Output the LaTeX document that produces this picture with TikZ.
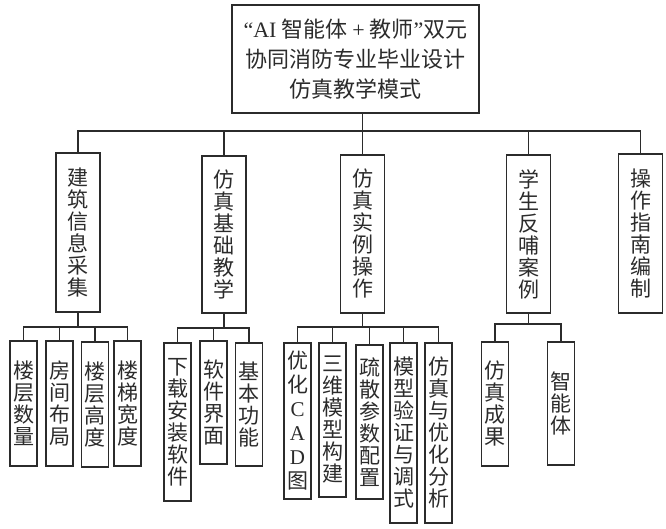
\documentclass[tikz,border=0pt]{standalone}
\usepackage{fontspec}
\setmainfont{Noto Sans CJK SC}
\newfontfamily\latin{Liberation Serif}
\definecolor{ink}{HTML}{2B2B2B}
\begin{document}
\begin{tikzpicture}[x=1pt,y=-1pt,
	box/.style={draw=ink, line width=1.3pt, align=center, inner sep=0pt, text=ink, font=\fontsize{21}{22}\selectfont},
	midbox/.style={box, minimum width=44, minimum height=#1},
	leafbox/.style={box, minimum width=27, minimum height=#1},
	link/.style={draw=ink, line width=1.2pt}]
	\useasboundingbox (0,0) rectangle (666,528);
	
	\node[box, minimum width=247, minimum height=108, font=\fontsize{22}{30}\selectfont] (top) at (355.5,59)
		{{\latin “AI} 智能体 {\latin +} 教师{\latin ”}双元\\协同消防专业毕业设计\\仿真教学模式};
	
	\node[midbox=159] (b1) at (78,232.5) {建\\筑\\信\\息\\采\\集};
	\node[midbox=157] (b2) at (224,234.5) {仿\\真\\基\\础\\教\\学};
	\node[midbox=158] (b3) at (362.5,234) {仿\\真\\实\\例\\操\\作};
	\node[midbox=158] (b4) at (528.5,234) {学\\生\\反\\哺\\案\\例};
	\node[midbox=159] (b5) at (640.5,233.5) {操\\作\\指\\南\\编\\制};
	
	\node[leafbox=125] (c1) at (23.5,403.5) {楼\\层\\数\\量};
	\node[leafbox=125] (c2) at (59.5,403.5) {房\\间\\布\\局};
	\node[leafbox=125] (c3) at (95,404.5) {楼\\层\\高\\度};
	\node[leafbox=125] (c4) at (127.5,403.5) {楼\\梯\\宽\\度};
	
	\node[leafbox=158] (d1) at (177.5,422) {下\\载\\安\\装\\软\\件};
	\node[leafbox=123] (d2) at (213.5,402.5) {软\\件\\界\\面};
	\node[leafbox=123] (d3) at (249,404.5) {基\\本\\功\\能};
	
	\node[leafbox=156, font=\fontsize{21}{24}\selectfont] (e1) at (297.5,421) {优\\化\\{\latin C}\\{\latin A}\\{\latin D}\\图};
	\node[leafbox=154] (e2) at (332.5,420) {三\\维\\模\\型\\构\\建};
	\node[leafbox=154] (e3) at (369.5,422) {疏\\散\\参\\数\\配\\置};
	\node[leafbox=180] (e4) at (403.5,433) {模\\型\\验\\证\\与\\调\\式};
	\node[leafbox=180] (e5) at (438.5,433) {仿\\真\\与\\优\\化\\分\\析};
	
	\node[leafbox=124] (f1) at (495,404) {仿\\真\\成\\果};
	\node[leafbox=123] (f2) at (561,403.5) {智\\能\\体};
	
	\coordinate (bus0) at (0,131);
	\coordinate (bus1) at (0,327);
	\coordinate (bus2) at (0,328);
	\coordinate (bus3) at (0,327);
	\coordinate (bus4) at (0,324);
	
	\draw[link] (top.south -| b3.north) -- (b3.north);
	\draw[link] (b1.north) |- (bus0 -| b5.north) -- (b5.north);
	\foreach \n in {b2,b4}
		\draw[link] (\n.north) -- (\n.north |- bus0);
	
	\draw[link] (b1.south) -- (b1.south |- bus1);
	\draw[link] (c1.north) |- (bus1 -| c4.north) -- (c4.north);
	\foreach \n in {c2,c3}
		\draw[link] (\n.north) -- (\n.north |- bus1);
	
	\draw[link] (b2.south) -- (b2.south |- bus2);
	\draw[link] (d1.north) |- (bus2 -| d3.north) -- (d3.north);
	\draw[link] (d2.north) -- (d2.north |- bus2);
	
	\draw[link] (b3.south) -- (b3.south |- bus3);
	\draw[link] (e1.north) |- (bus3 -| e5.north) -- (e5.north);
	\foreach \n in {e2,e3,e4}
		\draw[link] (\n.north) -- (\n.north |- bus3);
	
	\draw[link] (b4.south) -- (b4.south |- bus4);
	\draw[link] (f1.north) |- (bus4 -| f2.north) -- (f2.north);
	
\end{tikzpicture}
\end{document}
